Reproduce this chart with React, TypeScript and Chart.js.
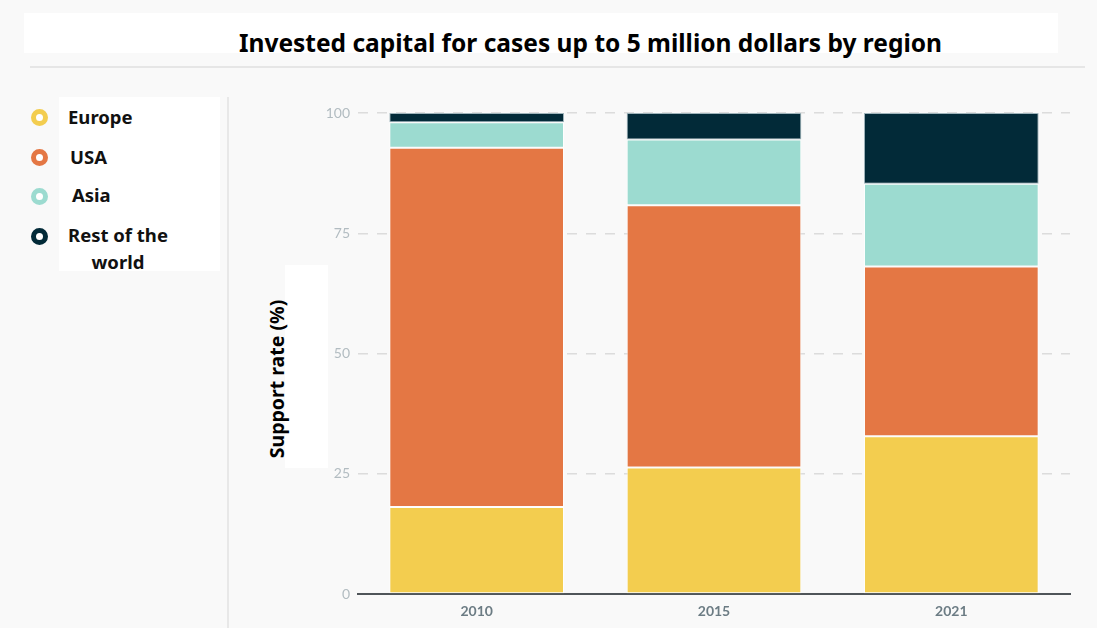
import React, { useEffect, useRef } from 'react';
import { Chart, registerables } from 'chart.js';

Chart.register(...registerables);

// Share of invested capital (%) per year and region
const years = ['2010', '2015', '2021'];
const europe = [18.1, 26.3, 32.8];
const usa = [74.7, 54.5, 35.3];
const asia = [5.3, 13.7, 17.2];
const restOfWorld = [1.9, 5.5, 14.7];

const seriesNames = ['Europe', 'USA', 'Asia', 'Rest of the world'];
const seriesColors = ['#f3cd4f', '#e47744', '#9cdbd0', '#022a38'];
const seriesEdges = ['rgba(255,255,255,0.75)', 'rgba(255,255,255,0.75)', 'rgba(255,255,255,0.75)', '#9fb4bb'];

const titleText = 'Invested capital for cases up to 5 million dollars by region';
const yAxisTitle = 'Support rate (%)';

const W = 1097;
const H = 628;

const legendRows = [
  { lines: ['Europe'], y: 117.5, textX: 68 },
  { lines: ['USA'], y: 157.5, textX: 70 },
  { lines: ['Asia'], y: 196, textX: 72 },
  { lines: ['Rest of the', 'world'], y: 236, textX: 68 },
];

export default function App() {
  const canvasRef = useRef<HTMLCanvasElement | null>(null);

  useEffect(() => {
    const canvas = canvasRef.current;
    if (!canvas) return;
    const values = [europe, usa, asia, restOfWorld];
    const chart = new Chart(canvas, {
      type: 'bar',
      data: {
        labels: years,
        datasets: values.map((data, i) => ({
          label: seriesNames[i],
          data,
          backgroundColor: seriesColors[i],
          borderColor: seriesEdges[i],
          borderWidth: 1,
          borderSkipped: false,
          barPercentage: 0.8,
          categoryPercentage: 0.92,
        })),
      },
      options: {
        animation: false,
        responsive: false,
        maintainAspectRatio: false,
        layout: { padding: { left: 290, right: 27, top: 113, bottom: 0 } },
        plugins: {
          legend: { display: false },
          tooltip: { enabled: false },
          title: { display: false },
        },
        scales: {
          x: {
            stacked: true,
            grid: { display: false, drawTicks: false },
            border: { display: true, color: '#4f5559', width: 2 },
            ticks: {
              color: '#6c7c84',
              padding: 9,
              font: { family: 'Lato', size: 14, weight: 'bold' },
            },
            afterFit: (scale: any) => {
              scale.height = 34;
            },
          },
          y: {
            stacked: true,
            min: 0,
            max: 100,
            ticks: {
              stepSize: 25,
              color: '#b2bcc1',
              padding: 8,
              font: { family: 'Lato', size: 14 },
            },
            grid: {
              color: (ctx: any) => (ctx.tick && ctx.tick.value === 0 ? 'rgba(0,0,0,0)' : '#dcdcdc'),
              lineWidth: 1.5,
              drawTicks: false,
            },
            border: { display: false, dash: [10, 9] },
            afterFit: (scale: any) => {
              scale.width = 68;
            },
          },
        },
      },
    });
    return () => chart.destroy();
  }, []);

  const boldFont = '"Noto Sans", "Open Sans", sans-serif';

  return (
    <div
      style={{
        position: 'fixed',
        left: 0,
        top: 0,
        width: W,
        height: H,
        background: '#f9f9f9',
        overflow: 'hidden',
        fontFamily: boldFont,
      }}
    >
      {/* header */}
      <div style={{ position: 'absolute', left: 24, top: 13, width: 1034, height: 40, background: '#ffffff' }} />
      <div
        style={{
          position: 'absolute',
          left: 0,
          top: 27.5,
          width: 1181,
          textAlign: 'center',
          fontSize: 24.5,
          lineHeight: '30px',
          fontWeight: 700,
          color: '#000',
          whiteSpace: 'nowrap',
        }}
      >
        {titleText}
      </div>
      <div style={{ position: 'absolute', left: 30, top: 66, width: 1055, height: 2, background: '#e6e6e6' }} />

      {/* legend panel */}
      <div style={{ position: 'absolute', left: 59, top: 97, width: 161, height: 174, background: '#ffffff' }} />
      <div style={{ position: 'absolute', left: 227, top: 97, width: 2, height: 531, background: '#e8e8e8' }} />
      {legendRows.map((row, i) => (
        <React.Fragment key={seriesNames[i]}>
          <div
            style={{
              position: 'absolute',
              left: 39.5 - 8.5,
              top: row.y - 8.5,
              width: 7,
              height: 7,
              borderRadius: '50%',
              border: `5px solid ${seriesColors[i]}`,
              background: '#ffffff',
            }}
          />
          <div
            style={{
              position: 'absolute',
              left: row.textX,
              top: row.y - 15,
              fontSize: 18.5,
              lineHeight: '27px',
              fontWeight: 700,
              color: '#111',
              textAlign: 'center',
              whiteSpace: 'nowrap',
            }}
          >
            {row.lines.map((l) => (
              <div key={l}>{l}</div>
            ))}
          </div>
        </React.Fragment>
      ))}

      {/* y axis title */}
      <div style={{ position: 'absolute', left: 285, top: 265, width: 43, height: 203, background: '#ffffff' }} />
      <div
        style={{
          position: 'absolute',
          left: 277 - 110,
          top: 379 - 13,
          width: 220,
          height: 26,
          lineHeight: '26px',
          textAlign: 'center',
          transform: 'rotate(-90deg)',
          fontSize: 19.5,
          fontWeight: 700,
          color: '#000',
          whiteSpace: 'nowrap',
        }}
      >
        {yAxisTitle}
      </div>

      <canvas ref={canvasRef} width={W} height={H} style={{ position: 'absolute', left: 0, top: 0, width: W, height: H }} />
    </div>
  );
}
